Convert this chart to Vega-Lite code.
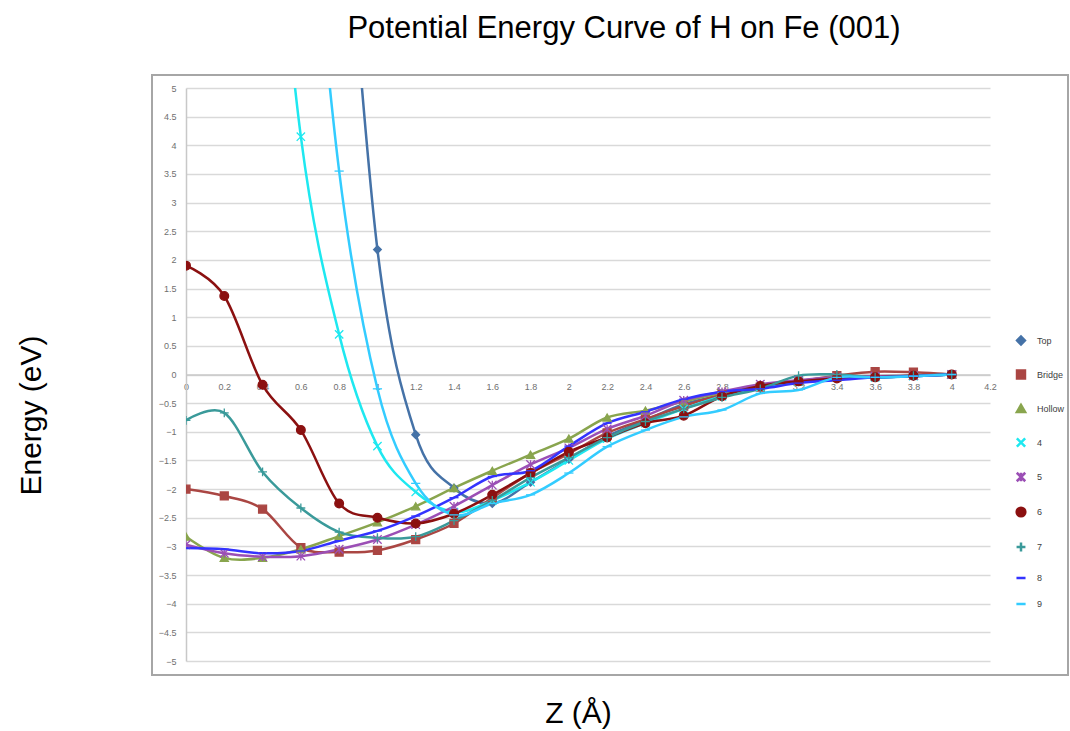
{
"$schema": "https://vega.github.io/schema/vega-lite/v6.json",
"width": 804, "height": 573,
"autosize": {"type": "none"},
"padding": {"left": 186, "top": 88, "right": 80, "bottom": 70},
"background": "white",
"title": {"text": "Potential Energy Curve of H on Fe (001)", "font": "Liberation Sans", "fontSize": 31, "fontWeight": "normal", "color": "#000000", "anchor": "middle", "dx": 36, "offset": 5, "baseline": "alphabetic"},
"datasets": {
"pec": [
{"s":"Top","z":0.8,"e":10},{"s":"Top","z":1.0,"e":2.18},{"s":"Top","z":1.2,"e":-1.05},{"s":"Top","z":1.4,"e":-1.98},{"s":"Top","z":1.6,"e":-2.25},{"s":"Top","z":1.8,"e":-1.88},{"s":"Top","z":2.0,"e":-1.48},{"s":"Top","z":2.2,"e":-1.08},{"s":"Top","z":2.4,"e":-0.8},{"s":"Top","z":2.6,"e":-0.52},{"s":"Top","z":2.8,"e":-0.36},{"s":"Top","z":3.0,"e":-0.22},{"s":"Top","z":3.2,"e":-0.12},{"s":"Top","z":3.4,"e":-0.06},{"s":"Top","z":3.6,"e":-0.05},{"s":"Top","z":3.8,"e":-0.03},{"s":"Top","z":4.0,"e":0},
{"s":"Bridge","z":0,"e":-2.0},{"s":"Bridge","z":0.2,"e":-2.12},{"s":"Bridge","z":0.4,"e":-2.35},{"s":"Bridge","z":0.6,"e":-3.02},{"s":"Bridge","z":0.8,"e":-3.1},{"s":"Bridge","z":1.0,"e":-3.07},{"s":"Bridge","z":1.2,"e":-2.88},{"s":"Bridge","z":1.4,"e":-2.6},{"s":"Bridge","z":1.6,"e":-2.15},{"s":"Bridge","z":1.8,"e":-1.72},{"s":"Bridge","z":2.0,"e":-1.38},{"s":"Bridge","z":2.2,"e":-1.02},{"s":"Bridge","z":2.4,"e":-0.78},{"s":"Bridge","z":2.6,"e":-0.55},{"s":"Bridge","z":2.8,"e":-0.35},{"s":"Bridge","z":3.0,"e":-0.22},{"s":"Bridge","z":3.2,"e":-0.12},{"s":"Bridge","z":3.4,"e":-0.02},{"s":"Bridge","z":3.6,"e":0.05},{"s":"Bridge","z":3.8,"e":0.04},{"s":"Bridge","z":4.0,"e":0},
{"s":"Hollow","z":0,"e":-2.83},{"s":"Hollow","z":0.2,"e":-3.2},{"s":"Hollow","z":0.4,"e":-3.2},{"s":"Hollow","z":0.6,"e":-3.05},{"s":"Hollow","z":0.8,"e":-2.82},{"s":"Hollow","z":1.0,"e":-2.58},{"s":"Hollow","z":1.2,"e":-2.3},{"s":"Hollow","z":1.4,"e":-1.98},{"s":"Hollow","z":1.6,"e":-1.68},{"s":"Hollow","z":1.8,"e":-1.4},{"s":"Hollow","z":2.0,"e":-1.12},{"s":"Hollow","z":2.2,"e":-0.75},{"s":"Hollow","z":2.4,"e":-0.63},{"s":"Hollow","z":2.6,"e":-0.47},{"s":"Hollow","z":2.8,"e":-0.32},{"s":"Hollow","z":3.0,"e":-0.2},{"s":"Hollow","z":3.2,"e":-0.12},{"s":"Hollow","z":3.4,"e":-0.05},{"s":"Hollow","z":3.6,"e":-0.03},{"s":"Hollow","z":3.8,"e":-0.02},{"s":"Hollow","z":4.0,"e":0},
{"s":"4","z":0.4,"e":11},{"s":"4","z":0.6,"e":4.15},{"s":"4","z":0.8,"e":0.7},{"s":"4","z":1.0,"e":-1.25},{"s":"4","z":1.2,"e":-2.05},{"s":"4","z":1.4,"e":-2.4},{"s":"4","z":1.6,"e":-2.2},{"s":"4","z":1.8,"e":-1.88},{"s":"4","z":2.0,"e":-1.5},{"s":"4","z":2.2,"e":-1.12},{"s":"4","z":2.4,"e":-0.85},{"s":"4","z":2.6,"e":-0.6},{"s":"4","z":2.8,"e":-0.38},{"s":"4","z":3.0,"e":-0.22},{"s":"4","z":3.2,"e":-0.12},{"s":"4","z":3.4,"e":-0.05},{"s":"4","z":3.6,"e":-0.05},{"s":"4","z":3.8,"e":-0.03},{"s":"4","z":4.0,"e":0},
{"s":"5","z":0,"e":-2.97},{"s":"5","z":0.2,"e":-3.12},{"s":"5","z":0.4,"e":-3.18},{"s":"5","z":0.6,"e":-3.17},{"s":"5","z":0.8,"e":-3.05},{"s":"5","z":1.0,"e":-2.88},{"s":"5","z":1.2,"e":-2.62},{"s":"5","z":1.4,"e":-2.3},{"s":"5","z":1.6,"e":-1.93},{"s":"5","z":1.8,"e":-1.57},{"s":"5","z":2.0,"e":-1.28},{"s":"5","z":2.2,"e":-0.95},{"s":"5","z":2.4,"e":-0.72},{"s":"5","z":2.6,"e":-0.45},{"s":"5","z":2.8,"e":-0.3},{"s":"5","z":3.0,"e":-0.17},{"s":"5","z":3.2,"e":-0.1},{"s":"5","z":3.4,"e":-0.05},{"s":"5","z":3.6,"e":-0.03},{"s":"5","z":3.8,"e":-0.02},{"s":"5","z":4.0,"e":0},
{"s":"6","z":0,"e":1.9},{"s":"6","z":0.2,"e":1.37},{"s":"6","z":0.4,"e":-0.18},{"s":"6","z":0.6,"e":-0.97},{"s":"6","z":0.8,"e":-2.25},{"s":"6","z":1.0,"e":-2.5},{"s":"6","z":1.2,"e":-2.6},{"s":"6","z":1.4,"e":-2.43},{"s":"6","z":1.6,"e":-2.1},{"s":"6","z":1.8,"e":-1.72},{"s":"6","z":2.0,"e":-1.35},{"s":"6","z":2.2,"e":-1.1},{"s":"6","z":2.4,"e":-0.85},{"s":"6","z":2.6,"e":-0.72},{"s":"6","z":2.8,"e":-0.38},{"s":"6","z":3.0,"e":-0.2},{"s":"6","z":3.2,"e":-0.12},{"s":"6","z":3.4,"e":-0.07},{"s":"6","z":3.6,"e":-0.05},{"s":"6","z":3.8,"e":-0.02},{"s":"6","z":4.0,"e":0},
{"s":"7","z":0,"e":-0.8},{"s":"7","z":0.2,"e":-0.67},{"s":"7","z":0.4,"e":-1.7},{"s":"7","z":0.6,"e":-2.33},{"s":"7","z":0.8,"e":-2.75},{"s":"7","z":1.0,"e":-2.85},{"s":"7","z":1.2,"e":-2.83},{"s":"7","z":1.4,"e":-2.55},{"s":"7","z":1.6,"e":-2.2},{"s":"7","z":1.8,"e":-1.8},{"s":"7","z":2.0,"e":-1.45},{"s":"7","z":2.2,"e":-1.1},{"s":"7","z":2.4,"e":-0.82},{"s":"7","z":2.6,"e":-0.6},{"s":"7","z":2.8,"e":-0.4},{"s":"7","z":3.0,"e":-0.25},{"s":"7","z":3.2,"e":-0.02},{"s":"7","z":3.4,"e":0},{"s":"7","z":3.6,"e":-0.05},{"s":"7","z":3.8,"e":-0.02},{"s":"7","z":4.0,"e":0},
{"s":"8","z":0,"e":-3.03},{"s":"8","z":0.2,"e":-3.05},{"s":"8","z":0.4,"e":-3.12},{"s":"8","z":0.6,"e":-3.08},{"s":"8","z":0.8,"e":-2.9},{"s":"8","z":1.0,"e":-2.73},{"s":"8","z":1.2,"e":-2.47},{"s":"8","z":1.4,"e":-2.15},{"s":"8","z":1.6,"e":-1.78},{"s":"8","z":1.8,"e":-1.68},{"s":"8","z":2.0,"e":-1.25},{"s":"8","z":2.2,"e":-0.85},{"s":"8","z":2.4,"e":-0.65},{"s":"8","z":2.6,"e":-0.43},{"s":"8","z":2.8,"e":-0.3},{"s":"8","z":3.0,"e":-0.25},{"s":"8","z":3.2,"e":-0.15},{"s":"8","z":3.4,"e":-0.1},{"s":"8","z":3.6,"e":-0.05},{"s":"8","z":3.8,"e":-0.03},{"s":"8","z":4.0,"e":0},
{"s":"9","z":0.6,"e":10.5},{"s":"9","z":0.8,"e":3.55},{"s":"9","z":1.0,"e":-0.25},{"s":"9","z":1.2,"e":-1.9},{"s":"9","z":1.4,"e":-2.45},{"s":"9","z":1.6,"e":-2.25},{"s":"9","z":1.8,"e":-2.1},{"s":"9","z":2.0,"e":-1.72},{"s":"9","z":2.2,"e":-1.26},{"s":"9","z":2.4,"e":-0.97},{"s":"9","z":2.6,"e":-0.74},{"s":"9","z":2.8,"e":-0.62},{"s":"9","z":3.0,"e":-0.33},{"s":"9","z":3.2,"e":-0.27},{"s":"9","z":3.4,"e":-0.05},{"s":"9","z":3.6,"e":-0.05},{"s":"9","z":3.8,"e":-0.03},{"s":"9","z":4.0,"e":0}
]},
"data": {"name": "pec"},
"encoding": {
  "x": {"field": "z", "type": "quantitative", "scale": {"domain": [0, 4.2], "nice": false, "zero": false},
    "axis": {"title": "Z (Å)", "values": [0,0.2,0.4,0.6,0.8,1,1.2,1.4,1.6,1.8,2,2.2,2.4,2.6,2.8,3,3.2,3.4,3.6,3.8,4,4.2], "format": "~g", "offset": -286.5, "grid": false, "ticks": false, "domainColor": "#c8c8c8", "domainWidth": 1.5, "labelFont": "Liberation Sans", "labelFontSize": 9, "labelColor": "#707070", "labelPadding": 8, "labelFlush": false, "labelOverlap": false,
      "titleFont": "Liberation Sans", "titleFontSize": 30, "titleFontWeight": "normal", "titleColor": "#000000", "titleX": 392, "titleY": 348, "titleBaseline": "alphabetic", "titleAnchor": null}},
  "y": {"field": "e", "type": "quantitative", "scale": {"domain": [-5, 5], "nice": false, "zero": false},
    "axis": {"title": "Energy (eV)", "values": [-5,-4.5,-4,-3.5,-3,-2.5,-2,-1.5,-1,-0.5,0,0.5,1,1.5,2,2.5,3,3.5,4,4.5,5], "format": "~g", "grid": true, "gridColor": "#d9d9d9", "gridWidth": 1.5, "ticks": false, "domainColor": "#c8c8c8", "domainWidth": 1.5, "labelFont": "Liberation Sans", "labelFontSize": 9, "labelColor": "#707070", "labelPadding": 10, "labelFlush": false, "labelOverlap": false,
      "titleFont": "Liberation Sans", "titleFontSize": 30, "titleFontWeight": "normal", "titleColor": "#000000", "titleX": -146, "titleY": 327, "titleAngle": -90, "titleBaseline": "alphabetic", "titleAnchor": null}}
},
"layer": [
  {"mark": {"type": "rect", "fill": null, "fillOpacity": 0, "stroke": "#a6a6a6", "strokeWidth": 1.5, "clip": false},
   "encoding": {
     "x": {"datum": -0.178, "type": "quantitative", "scale": {"domain": [0, 4.2], "nice": false, "zero": false}},
     "x2": {"datum": 4.607},
     "y": {"datum": 5.227, "type": "quantitative", "scale": {"domain": [-5, 5], "nice": false, "zero": false}},
     "y2": {"datum": -5.244}
   }},
  {"data": {"values": [{"t": "Figure 9 Potential Energy Curve of H on 7L 1x1 Iron (001)"}]},
   "mark": {"type": "text", "font": "Liberation Serif", "fontSize": 24, "fontWeight": "bold", "fill": "#000000", "align": "center", "baseline": "top", "clip": false},
   "encoding": {
     "x": {"datum": 2.241, "type": "quantitative", "scale": {"domain": [0, 4.2], "nice": false, "zero": false}},
     "y": {"datum": -6.05, "type": "quantitative", "scale": {"domain": [-5, 5], "nice": false, "zero": false}},
     "text": {"field": "t", "type": "nominal"}
   }},
  {"mark": {"type": "line", "interpolate": "cardinal", "clip": true},
   "encoding": {
     "color": {"field": "s", "type": "nominal",
       "scale": {"domain": ["Top","Bridge","Hollow","4","5","6","7","8","9"], "range": ["#4572A7","#AA4643","#89A54E","#1EE8F0","#9B4FB5","#8B1010","#3A9A9A","#3333FF","#33CCFF"]},
       "legend": {"title": null, "orient": "none", "legendX": 829, "legendY": 247, "symbolType": "stroke", "symbolSize": 400, "symbolStrokeWidth": 2.5, "labelFont": "Liberation Sans", "labelFontSize": 9, "labelColor": "#404040", "rowPadding": 15, "labelOffset": 10}},
     "strokeWidth": {"field": "s", "type": "nominal", "scale": {"domain": ["Top","Bridge","Hollow","4","5","6","7","8","9"], "range": [2.5,2.5,2.5,1.5,1.5,1.5,1.5,1.5,1.5]}, "legend": null}
   }},
  {"mark": {"type": "point", "filled": true, "strokeWidth": 1.3, "opacity": 1, "clip": true},
   "encoding": {
     "fill": {"field": "s", "type": "nominal", "scale": {"domain": ["Top","Bridge","Hollow","4","5","6","7","8","9"], "range": ["#4572A7","#AA4643","#89A54E","#1EE8F0","#9B4FB5","#8B1010","#3A9A9A","#3333FF","#33CCFF"]}, "legend": null},
     "stroke": {"field": "s", "type": "nominal", "scale": {"domain": ["Top","Bridge","Hollow","4","5","6","7","8","9"], "range": ["#4572A7","#AA4643","#89A54E","#1EE8F0","#9B4FB5","#8B1010","#3A9A9A","#3333FF","#33CCFF"]}, "legend": null},
     "shape": {"field": "s", "type": "nominal", "scale": {"domain": ["Top","Bridge","Hollow","4","5","6","7","8","9"], "range": ["diamond","square","triangle-up","M-1,-1L1,1M-1,1L1,-1","M-1,-1L1,1M-1,1L1,-1M0,-1V1","circle","M-1,0H1M0,-1V1","stroke","stroke"]}, "legend": null},
     "size": {"field": "s", "type": "nominal", "scale": {"domain": ["Top","Bridge","Hollow","4","5","6","7","8","9"], "range": [60,85,75,30,30,40,30,36,25]}, "legend": null}
   }}
],
"config": {"view": {"stroke": null}, "font": "Liberation Sans"}
}
